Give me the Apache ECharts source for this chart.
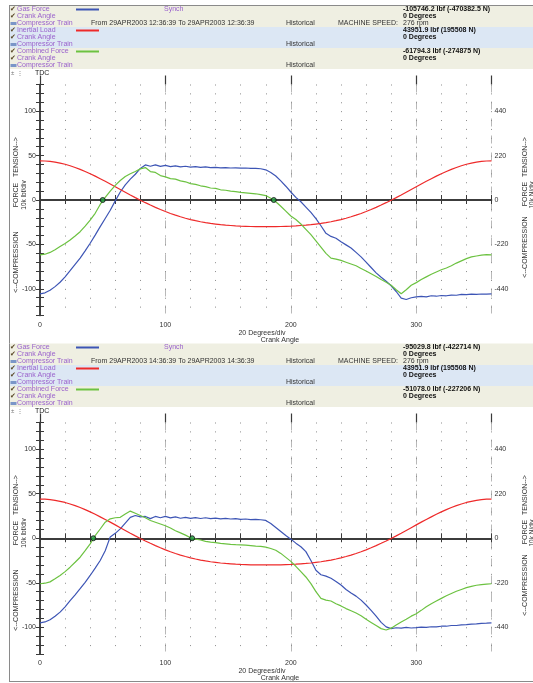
<!DOCTYPE html>
<html><head><meta charset="utf-8">
<script src="https://cdn.jsdelivr.net/npm/echarts@6/dist/echarts.min.js"></script>
<style>html,body{margin:0;padding:0;background:#fff}#c{width:533px;height:683px}</style>
</head><body><div id="c"></div>
<script>
// ---------- DATA ----------
const angles = [0,4,8,12,16,20,24,28,32,36,40,44,48,52,56,60,64,68,72,76,80,84,88,92,96,100,104,108,112,116,120,124,128,132,136,140,144,148,152,156,160,164,168,172,176,180,184,188,192,196,200,204,208,212,216,220,224,228,232,236,240,244,248,252,256,260,264,268,272,276,280,284,288,292,296,300,304,308,312,316,320,324,328,332,336,340,344,348,352,356,360];

const inertialLoad = [44.0,43.9,43.4,42.6,41.5,40.2,38.5,36.6,34.5,32.1,29.6,26.9,24.0,21.1,18.1,15.0,11.9,8.8,5.7,2.7,-0.2,-3.0,-5.7,-8.3,-10.7,-13.0,-15.2,-17.1,-18.9,-20.5,-22.0,-23.3,-24.5,-25.5,-26.4,-27.1,-27.8,-28.3,-28.7,-29.1,-29.4,-29.6,-29.8,-29.9,-29.9,-30.0,-29.9,-29.9,-29.8,-29.6,-29.4,-29.1,-28.7,-28.3,-27.8,-27.1,-26.4,-25.5,-24.5,-23.3,-22.0,-20.5,-18.9,-17.1,-15.2,-13.0,-10.7,-8.3,-5.7,-3.0,-0.2,2.7,5.7,8.8,11.9,15.0,18.1,21.1,24.0,26.9,29.6,32.1,34.5,36.6,38.5,40.2,41.5,42.6,43.4,43.9,44.0];

const gasForceTop = [-105.7,-104.5,-101.5,-97.5,-92.6,-86.5,-79.6,-72.5,-65.4,-57.2,-48.7,-39.5,-30.0,-20.8,-11.5,-1.0,9.0,17.0,23.5,29.0,35.5,39.5,38.0,39.5,37.8,39.0,37.5,38.5,37.2,38.0,37.0,37.6,36.8,37.3,36.5,36.8,36.2,36.5,36.0,36.2,35.8,36.0,35.6,35.5,35.2,34.0,31.0,27.0,21.5,15.5,9.0,3.0,-2.0,-8.0,-14.0,-21.0,-29.0,-37.5,-41.0,-43.0,-47.0,-50.5,-54.0,-59.0,-64.0,-70.0,-76.0,-82.0,-87.0,-91.5,-96.5,-103.0,-110.5,-112.0,-110.0,-109.0,-108.5,-109.0,-107.8,-108.3,-107.5,-107.8,-107.0,-107.2,-106.3,-106.6,-106.0,-106.2,-105.8,-106.0,-105.7];

const combinedTop = [-61.8,-61.0,-59.0,-56.0,-52.4,-49.0,-45.0,-40.5,-35.7,-29.5,-22.7,-15.0,-5.0,3.0,10.0,16.5,22.0,26.5,29.5,32.0,35.0,36.5,32.0,31.0,27.5,26.0,24.0,23.5,21.5,20.5,18.5,17.5,16.0,15.0,13.5,13.0,11.5,11.0,10.0,9.5,8.5,8.0,7.5,7.0,6.0,5.0,2.0,-2.0,-7.0,-12.5,-18.0,-22.0,-27.0,-33.0,-39.0,-46.0,-53.0,-60.0,-65.5,-66.5,-68.0,-70.0,-72.0,-74.0,-77.0,-80.0,-83.0,-86.0,-89.5,-92.5,-96.0,-101.0,-105.5,-101.0,-96.0,-93.0,-89.5,-86.5,-83.5,-81.0,-78.5,-76.5,-74.0,-71.0,-68.5,-66.0,-64.0,-63.0,-62.0,-61.5,-61.8];

const gasForceBottom = [-95.0,-94.0,-91.5,-87.5,-83.0,-77.0,-70.0,-63.5,-56.7,-49.5,-41.8,-33.5,-25.0,-14.0,1.5,5.5,10.5,17.0,23.5,25.5,24.0,24.5,22.0,24.5,23.0,24.5,22.8,24.0,22.5,23.5,22.3,23.2,22.2,23.0,22.0,22.6,21.8,22.3,21.6,22.0,21.2,21.6,21.0,21.2,20.8,20.0,16.5,12.0,7.5,3.0,-1.0,-5.5,-9.5,-15.0,-25.0,-36.0,-41.0,-42.5,-45.0,-48.5,-52.5,-57.5,-61.5,-65.0,-69.5,-75.0,-81.0,-87.5,-94.5,-99.5,-101.5,-100.5,-101.0,-100.0,-100.8,-100.4,-99.8,-100.2,-99.4,-99.6,-98.8,-98.8,-98.0,-98.0,-97.2,-97.0,-96.4,-96.2,-95.6,-95.4,-95.0];

const combinedBottom = [-51.1,-50.5,-49.0,-45.5,-41.8,-37.5,-32.5,-27.0,-21.3,-14.0,-6.3,3.0,10.4,18.0,21.8,23.0,23.5,27.2,30.5,28.0,25.5,23.0,20.0,18.0,16.0,14.0,11.5,8.5,6.0,3.5,0.5,-1.0,-2.0,-3.5,-4.3,-5.0,-5.8,-6.3,-6.8,-7.2,-7.5,-7.8,-8.2,-8.8,-9.2,-10.0,-11.5,-13.5,-17.0,-21.5,-26.0,-31.5,-37.5,-43.5,-51.0,-60.0,-67.5,-69.5,-70.5,-73.5,-76.0,-79.0,-81.5,-84.0,-87.0,-91.0,-94.5,-98.0,-101.5,-103.0,-101.0,-97.5,-94.0,-91.0,-87.5,-84.7,-81.0,-77.0,-73.5,-70.5,-67.5,-64.5,-62.0,-59.5,-57.5,-55.5,-54.0,-52.8,-52.0,-51.5,-51.1];

const zeroCrossTopAngles = [50, 186.4];
const zeroCrossBottomAngles = [42.5, 121.3];

const seriesNames = ['Gas Force', 'Inertial Load', 'Combined Force'];
const subNames = ['Crank Angle', 'Compressor Train'];
const valuesTop = ['-105746.2 lbf (-470382.5 N)', '43951.9 lbf (195508 N)', '-61794.3 lbf (-274875 N)'];
const valuesBottom = ['-95029.8 lbf (-422714 N)', '43951.9 lbf (195508 N)', '-51078.0 lbf (-227206 N)'];
const timeTop = 'From 29APR2003 12:36:39 To 29APR2003 12:36:39';
const timeBottom = 'From 29APR2003 14:36:39 To 29APR2003 14:36:39';
const speedText = '276 rpm';
const xTickLabels = [0, 100, 200, 300];
const yTickLabelsLbf = [-100, -50, 0, 50, 100];
const yToKN = 4.4;

// ---------- STYLE ----------
const FONT = '"Liberation Sans", Arial, Helvetica, sans-serif';
const COL_BLUE = '#3d55b5', COL_RED = '#ee2a2a', COL_GREEN = '#6cc241';
const PURPLE = '#9a62cc';
const lineColors = [COL_BLUE, COL_RED, COL_GREEN];

function txt(x, y, s, opt) {
  opt = opt || {};
  return {type:'text', x:x, y:y, z:10, silent:true, rotation: opt.rot || 0,
    style:{text:s, fill:opt.fill || '#333', font:(opt.bold ? 'bold ' : '') + (opt.size || 7) + 'px ' + FONT,
      align:opt.align || 'left', verticalAlign:'middle'}};
}

function panelGraphics(dy, values, timeStr) {
  const g = [];
  g.push({type:'rect', z:0, silent:true, shape:{x:10, y:5.5+dy, width:523, height:21.5}, style:{fill:'#efefe2'}});
  g.push({type:'rect', z:0, silent:true, shape:{x:10, y:27+dy, width:523, height:21}, style:{fill:'#dce7f4'}});
  g.push({type:'rect', z:0, silent:true, shape:{x:10, y:48+dy, width:523, height:21}, style:{fill:'#efefe2'}});
  for (let b = 0; b < 3; b++) {
    const y0 = 9.5 + b*21 + dy;
    // icons
    g.push(txt(10, y0, '\u2714', {fill:'#5b4a28', size:6.5}));
    g.push(txt(10, y0+7, '\u2714', {fill:'#5b4a28', size:6.5}));
    g.push({type:'rect', z:10, silent:true, shape:{x:10.5, y:y0+12.5, width:6, height:3}, style:{fill:'#7a96c8'}});
    g.push(txt(17, y0, seriesNames[b], {fill:PURPLE}));
    g.push(txt(17, y0+7, subNames[0], {fill:PURPLE}));
    g.push(txt(17, y0+14, subNames[1], {fill:PURPLE}));
    g.push({type:'line', z:10, silent:true, shape:{x1:76, y1:y0, x2:99, y2:y0}, style:{stroke:lineColors[b], lineWidth:2}});
    g.push(txt(286, y0+14, 'Historical'));
    g.push(txt(403, y0, values[b], {bold:true, fill:'#111'}));
    g.push(txt(403, y0+7, '0 Degrees', {bold:true, fill:'#111'}));
  }
  g.push(txt(164, 9.5+dy, 'Synch', {fill:PURPLE}));
  g.push(txt(91, 23.5+dy, timeStr));
  g.push(txt(338, 23.5+dy, 'MACHINE SPEED:'));
  g.push(txt(403, 23.5+dy, speedText));
  // TDC row
  g.push(txt(11, 73.5+dy, '\u00b1', {fill:'#777', size:6}));
  g.push(txt(17, 73.5+dy, '\u22ee', {fill:'#777', size:6}));
  g.push(txt(35, 73.5+dy, 'TDC', {fill:'#222'}));
  // axis names
  g.push(txt(262, 333.5+dy, '20 Degrees/div', {align:'center'}));
  g.push(txt(280, 340.5+dy, 'Crank Angle', {align:'center'}));
  const R = Math.PI/2;
  g.push(txt(16, 157+dy, 'TENSION-->', {align:'center', rot:R}));
  g.push(txt(16, 195+dy, 'FORCE', {align:'center', rot:R}));
  g.push(txt(16, 262+dy, '<--COMPRESSION', {align:'center', rot:R}));
  g.push(txt(24, 195+dy, '10k lbf/div', {align:'center', rot:R, size:6.5}));
  g.push(txt(525, 157+dy, 'TENSION-->', {align:'center', rot:R}));
  g.push(txt(525, 194+dy, 'FORCE', {align:'center', rot:R}));
  g.push(txt(525, 247+dy, '<--COMPRESSION', {align:'center', rot:R}));
  g.push(txt(532, 195+dy, '10k N/div', {align:'center', rot:R, size:6.5}));
  return g;
}

const graphics = [].concat(
  panelGraphics(0, valuesTop, timeTop),
  panelGraphics(338, valuesBottom, timeBottom),
  [
    {type:'line', z:11, silent:true, shape:{x1:9.5, y1:5, x2:9.5, y2:682}, style:{stroke:'#8a8a8a', lineWidth:1}},
    {type:'line', z:11, silent:true, shape:{x1:9, y1:5.5, x2:533, y2:5.5}, style:{stroke:'#8a8a8a', lineWidth:1}},
    {type:'line', z:11, silent:true, shape:{x1:9, y1:681.5, x2:533, y2:681.5}, style:{stroke:'#8a8a8a', lineWidth:1}}
  ]
);

const grids = [
  {left:40, top:84.5, width:451.5, height:231},
  {left:40, top:422.5, width:451.5, height:231.5}
];

const AX = '#3a3a3a';
const xAxes = [], yAxes = [];
const isMult = (v, m) => Math.abs(v/m - Math.round(v/m)) < 1e-6;
for (let gi = 0; gi < 2; gi++) {
  const h = grids[gi].height;
  const dotGap = h/26 - 1;
  xAxes.push({gridIndex:gi, type:'value', min:0, max:360, interval:20, position:'bottom', z:1,
    axisLine:{lineStyle:{color:AX, width:1.5}},
    axisTick:{inside:false, length:4, lineStyle:{color:AX}},
    axisLabel:{fontSize:7, fontFamily:FONT, color:'#333', margin:6,
      formatter:v => xTickLabels.indexOf(Math.round(v)) >= 0 ? String(Math.round(v)) : ''},
    splitLine:{show:true, lineStyle:{color:'#8c8c8c', width:1, type:[1, dotGap]}}});
  xAxes.push({gridIndex:gi, type:'value', min:0, max:360, interval:20, position:'top', z:1,
    axisLine:{lineStyle:{color:AX, width:1.5}},
    axisTick:{inside:false, length:5, lineStyle:{color:AX}},
    axisLabel:{show:false}, splitLine:{show:false}});
  xAxes.push({gridIndex:gi, type:'value', min:0, max:360, interval:100, position:'top', z:0,
    axisLine:{show:false},
    axisTick:{inside:false, length:9, lineStyle:{color:AX, width:1.2}},
    axisLabel:{show:false},
    splitLine:{show:true, lineStyle:{color:'#b8b8b8', width:1, type:[8, 9]}}});
  yAxes.push({gridIndex:gi, type:'value', min:-130, max:130, interval:10, position:'left', z:2,
    axisLine:{lineStyle:{color:AX, width:1.5}},
    axisTick:{inside:true, length:4, lineStyle:{color:AX}},
    axisLabel:{fontSize:7, fontFamily:FONT, color:'#333', margin:4,
      formatter:v => yTickLabelsLbf.some(t => Math.abs(t - v) < 1e-6) ? String(Math.round(v)) : ''},
    splitLine:{show:false}});
  yAxes.push({gridIndex:gi, type:'value', min:-130, max:130, interval:10, position:'right', z:2,
    axisLine:{lineStyle:{color:AX, width:1.5}},
    axisTick:{inside:true, length:4, lineStyle:{color:AX}},
    axisLabel:{fontSize:7, fontFamily:FONT, color:'#333', margin:3,
      formatter:v => yTickLabelsLbf.some(t => Math.abs(t - v) < 1e-6) ? String(Math.round(v*yToKN)) : ''},
    splitLine:{show:false}});
}

function pairs(xs, ys) { return xs.map((a, i) => [a, ys[i]]); }

const panels = [
  {gas:gasForceTop, comb:combinedTop, zc:zeroCrossTopAngles},
  {gas:gasForceBottom, comb:combinedBottom, zc:zeroCrossBottomAngles}
];
const series = [];
panels.forEach((p, gi) => {
  const xi = gi*3, yi = gi*2;
  const base = {type:'line', xAxisIndex:xi, yAxisIndex:yi, showSymbol:false, symbol:'none', smooth:false, z:3, silent:true};
  series.push(Object.assign({}, base, {name:'Gas Force', data:pairs(angles, p.gas), lineStyle:{color:COL_BLUE, width:1.2},
    markLine:{silent:true, symbol:'none', label:{show:false}, z:2,
      lineStyle:{color:'#3c3c3c', width:2, type:'solid'}, data:[{yAxis:0}]}}));
  series.push(Object.assign({}, base, {name:'Inertial Load', data:pairs(angles, inertialLoad), lineStyle:{color:COL_RED, width:1.2}}));
  series.push(Object.assign({}, base, {name:'Combined Force', data:pairs(angles, p.comb), lineStyle:{color:COL_GREEN, width:1.2}}));
  series.push({type:'scatter', xAxisIndex:xi, yAxisIndex:yi, z:5, silent:true, symbolSize:5,
    data:p.zc.map(a => [a, 0]), itemStyle:{color:'#1f9a3e', borderColor:'#111', borderWidth:1}});
});

const chart = echarts.init(document.getElementById('c'), null, {renderer:'canvas'});
chart.setOption({
  animation:false,
  backgroundColor:'#ffffff',
  grid:grids,
  xAxis:xAxes,
  yAxis:yAxes,
  series:series,
  graphic:graphics
});
</script>
</body></html>
